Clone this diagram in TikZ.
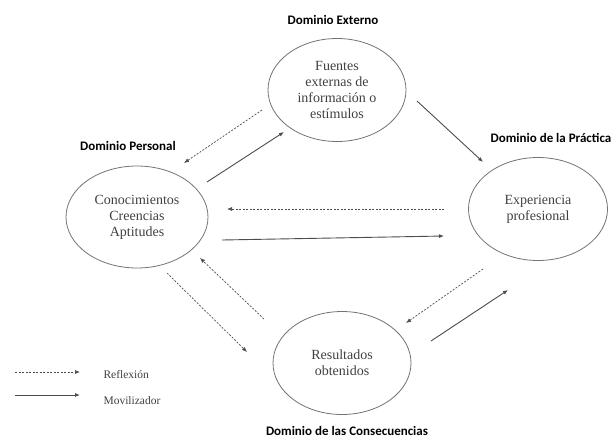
\documentclass[tikz,border=0pt]{standalone}
\usepackage{fontspec}
\setmainfont{Liberation Serif}
\newfontfamily\headfont{Carlito}
\usetikzlibrary{shapes.geometric,arrows.meta}
\begin{document}
\begin{tikzpicture}[x=1pt,y=-1pt,
 dom/.style={ellipse,draw=black!55,line width=0.8pt,minimum width=138pt,minimum height=103pt,inner sep=0pt,align=center,font=\fontsize{14}{16}\selectfont,text=black!75},
 head/.style={font=\headfont\bfseries\fontsize{13}{15}\selectfont,inner sep=1pt},
 mov/.style={draw=black!70,line width=0.9pt,-{Latex[length=5pt,width=4pt]}},
 refl/.style={draw=black!70,line width=0.7pt,dash pattern=on 2pt off 1.5pt,-{Latex[length=5pt,width=4pt]}},
 leg/.style={font=\fontsize{11.5}{13}\selectfont,anchor=west,text=black!75}]
\useasboundingbox (0,0) rectangle (615,442);
% domains
\node[dom] (F) at (337,90) {Fuentes\\externas de\\información o\\estímulos};
\node[dom,minimum width=142pt,minimum height=102pt] (P) at (137,217) {Conocimientos\\Creencias\\Aptitudes};
\node[dom,minimum width=139pt] (E) at (538,209) {Experiencia\\profesional};
\node[dom] (R) at (342,363) {Resultados\\obtenidos};
% headings
\node[head] (hF) at (333,20) {Dominio Externo};
\node[head] (hP) at (128,146) {Dominio Personal};
\node[head] (hE) at (551,138) {Dominio de la Práctica};
\node[head] (hR) at (347,431) {Dominio de las Consecuencias};
% connector end points
\coordinate (PF1) at (207,182); \coordinate (PF2) at (284,132);
\coordinate (FP1) at (262,110); \coordinate (FP2) at (184,163);
\coordinate (FE1) at (417,101); \coordinate (FE2) at (483,162);
\coordinate (EP1) at (444,209); \coordinate (EP2) at (227,209);
\coordinate (PE1) at (222,240); \coordinate (PE2) at (444,236);
\coordinate (PR1) at (167,273); \coordinate (PR2) at (247,352);
\coordinate (RP1) at (264,319); \coordinate (RP2) at (200,258);
\coordinate (ER1) at (483,269); \coordinate (ER2) at (406,323);
\coordinate (RE1) at (431,341); \coordinate (RE2) at (508,290);
% connectors
\draw[mov] (PF1) -- (PF2);
\draw[refl] (FP1) -- (FP2);
\draw[mov] (FE1) -- (FE2);
\draw[refl] (EP1) -- (EP2);
\draw[mov] (PE1) -- (PE2);
\draw[refl] (PR1) -- (PR2);
\draw[refl] (RP1) -- (RP2);
\draw[refl] (ER1) -- (ER2);
\draw[mov] (RE1) -- (RE2);
% legend
\coordinate (L1a) at (15,372); \coordinate (L1b) at (80,372);
\coordinate (L2a) at (15,395); \coordinate (L2b) at (80,395);
\draw[refl] (L1a) -- (L1b);
\draw[mov] (L2a) -- (L2b);
\node[leg] (lR) at (100,375) {Reflexión};
\node[leg] (lM) at (100,401) {Movilizador};
\end{tikzpicture}
\end{document}
